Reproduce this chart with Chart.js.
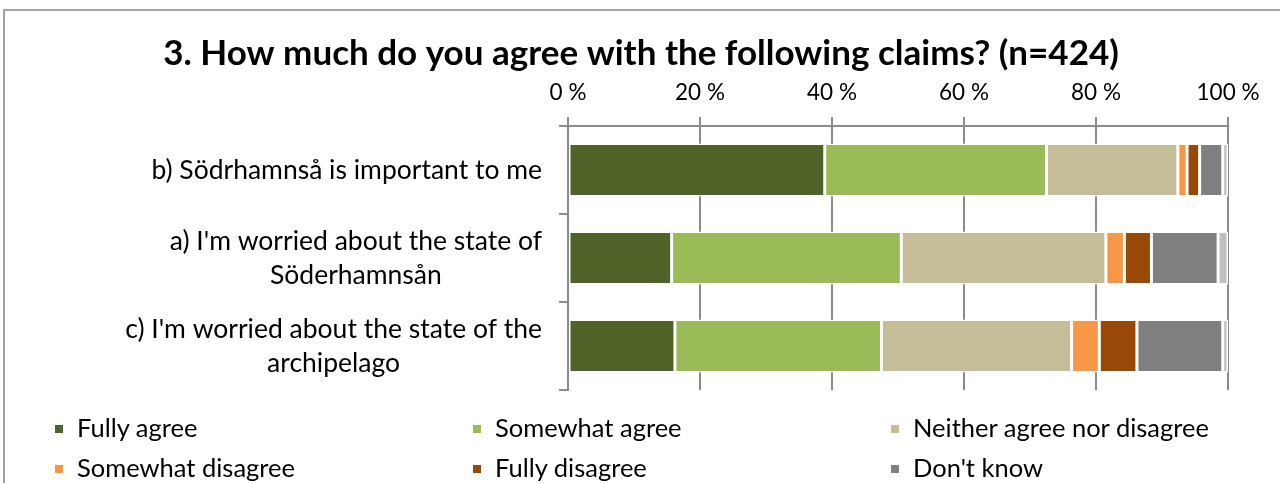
<!DOCTYPE html>
<html>
<head>
<meta charset="utf-8">
<script src="https://cdn.jsdelivr.net/npm/chart.js@4"></script>
<style>
  html, body { margin: 0; padding: 0; background: #fff; }
  body { width: 1280px; height: 483px; overflow: hidden; position: relative; font-family: Lato, "Noto Sans", sans-serif; }
  #chart { position: absolute; left: 0; top: 0; }
  .frame { position: absolute; left: 3px; top: 9px; width: 1300px; height: 600px; border-left: 2px solid #a3a3a3; border-top: 2px solid #a3a3a3; pointer-events: none; }
  .legend { position: absolute; left: 55px; top: 407px; width: 1254px; }
  .legend .item { float: left; width: 418px; height: 40px; line-height: 40px; font-size: 25.5px; color: #000; white-space: nowrap; }
  .legend .box { display: inline-block; width: 8px; height: 8px; margin-right: 14px; vertical-align: middle; position: relative; top: -2px; }
</style>
</head>
<body>
<canvas id="chart" width="1280" height="483"></canvas>
<div class="frame"></div>
<div class="legend" id="legend"></div>
<script>
// questions, top to bottom
const claims = [
  ['b) Södrhamnså is important to me'],
  ["a) I'm worried about the state of", 'Söderhamnsån'],
  ["c) I'm worried about the state of the", 'archipelago']
];

// answer shares in percent, one value per claim
const fullyAgree      = [38.9, 15.7, 16.2];
const somewhatAgree   = [33.6, 34.8, 31.3];
const neither         = [19.9, 31.0, 28.8];
const somewhatDisagree = [1.4, 2.8, 4.2];
const fullyDisagree   = [1.9, 4.1, 5.7];
const dontKnow        = [3.5, 10.1, 13.0];
const noAnswer        = [0.8, 1.5, 0.8];

const answers = ['Fully agree', 'Somewhat agree', 'Neither agree nor disagree',
  'Somewhat disagree', 'Fully disagree', "Don't know", 'No answer'];
const colors = ['#4F6228', '#9BBB59', '#C4BD97', '#F79646', '#984807', '#7F7F7F', '#BFBFBF'];
const series = [fullyAgree, somewhatAgree, neither, somewhatDisagree, fullyDisagree, dontKnow, noAnswer];

const xTicks = [0, 20, 40, 60, 80, 100];

const gridColor = '#8c8c8c';

// y labels: each block right aligned at the axis, its lines centred on each other
const claimLabels = {
  id: 'claimLabels',
  afterDraw(chart) {
    const ctx = chart.ctx;
    const y = chart.scales.y;
    const right = chart.chartArea.left - 26;
    const lineH = 34;
    ctx.save();
    ctx.font = '26.5px Lato';
    ctx.fillStyle = '#000';
    ctx.textAlign = 'center';
    ctx.textBaseline = 'middle';
    claims.forEach((lines, i) => {
      const w = Math.max(...lines.map(l => ctx.measureText(l).width));
      const cx = right - w / 2;
      const cy = y.getPixelForValue(i) - (lines.length - 1) * lineH / 2;
      lines.forEach((l, j) => ctx.fillText(l, cx, cy + j * lineH));
    });
    ctx.restore();
  }
};

const chart = new Chart(document.getElementById('chart'), {
  type: 'bar',
  data: {
    labels: claims.map(c => c.join(' ')),
    datasets: series.map((d, i) => ({
      label: answers[i],
      data: d,
      backgroundColor: colors[i],
      borderColor: '#fff',
      borderWidth: 1.5,
      borderSkipped: false,
      barPercentage: 0.6,
      categoryPercentage: 1
    }))
  },
  options: {
    indexAxis: 'y',
    responsive: false,
    animation: false,
    layout: { padding: { left: 2, right: 0, top: 0, bottom: 93 } },
    plugins: {
      legend: { display: false },
      tooltip: { enabled: false },
      title: {
        display: true,
        text: '3. How much do you agree with the following claims? (n=424)',
        color: '#000',
        font: { family: 'Lato', size: 35, weight: 'bold', lineHeight: 1.2 },
        padding: { top: 32.5, bottom: 0 }
      }
    },
    scales: {
      x: {
        position: 'top',
        stacked: true,
        min: 0,
        max: 100,
        afterBuildTicks(scale) { scale.ticks = xTicks.map(v => ({ value: v })); },
        afterFit(scale) { scale.height = 51.5; },
        ticks: {
          color: '#000',
          padding: 11,
          font: { family: 'Lato', size: 22.5 },
          callback: v => v + ' %'
        },
        grid: { color: gridColor, lineWidth: 2, tickLength: 9 },
        border: { color: gridColor, width: 2 }
      },
      y: {
        stacked: true,
        afterFit(scale) { scale.width = 566; },
        ticks: { display: false },
        grid: { drawOnChartArea: false, offset: true, color: gridColor, lineWidth: 2, tickLength: 9 },
        border: { color: gridColor, width: 2 }
      },
      // empty strip keeping room right of the plot
      yRight: {
        position: 'right',
        afterFit(scale) { scale.width = 52; },
        ticks: { display: false },
        grid: { display: false },
        border: { display: false }
      }
    }
  },
  plugins: [claimLabels]
});

// legend in three fixed columns under the plot
const legend = document.getElementById('legend');
answers.forEach((a, i) => {
  const item = document.createElement('div');
  item.className = 'item';
  const box = document.createElement('span');
  box.className = 'box';
  box.style.background = colors[i];
  item.appendChild(box);
  item.appendChild(document.createTextNode(a));
  legend.appendChild(item);
});
</script>
</body>
</html>
